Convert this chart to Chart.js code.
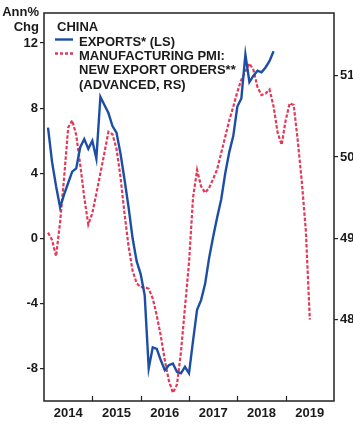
<!DOCTYPE html>
<html>
<head>
<meta charset="utf-8">
<script src="https://cdn.jsdelivr.net/npm/chart.js"></script>
<style>
  body { margin: 0; background: #fff; }
  #wrap { width: 353px; height: 424px; }
</style>
</head>
<body>
<div id="wrap"><canvas id="chart" width="353" height="424"></canvas></div>
<script>
// ================= DATA =================
const pmiMonths = [
  "2014-02","2014-03","2014-04","2014-05","2014-06","2014-07","2014-08","2014-09","2014-10","2014-11","2014-12",
  "2015-01","2015-02","2015-03","2015-04","2015-05","2015-06","2015-07","2015-08","2015-09","2015-10","2015-11","2015-12",
  "2016-01","2016-02","2016-03","2016-04","2016-05","2016-06","2016-07","2016-08","2016-09","2016-10","2016-11","2016-12",
  "2017-01","2017-02","2017-03","2017-04","2017-05","2017-06","2017-07","2017-08","2017-09","2017-10","2017-11","2017-12",
  "2018-01","2018-02","2018-03","2018-04","2018-05","2018-06","2018-07","2018-08","2018-09","2018-10","2018-11","2018-12",
  "2019-01","2019-02","2019-03","2019-04","2019-05","2019-06","2019-07"
];
// exports stop in Oct 2018
const exportMonths = pmiMonths.slice(0, 57);

const exportValues = [
  6.8, 4.7, 3.2, 1.9, 2.7, 3.4, 4.1, 4.3, 5.6, 6.1, 5.5,
  6.0, 4.9, 8.7, 8.2, 7.7, 6.9, 6.5, 5.2, 3.6, 1.9, 0.0, -1.4,
  -2.2, -3.5, -8.0, -6.7, -6.8, -7.5, -8.1, -7.8, -7.7, -8.2, -8.3, -7.9,
  -8.3, -6.3, -4.4, -3.8, -2.8, -1.2, 0.1, 1.3, 2.4, 4.0, 5.3, 6.3,
  8.1, 8.6, 11.3, 9.6, 10.0, 10.3, 10.2, 10.5, 10.9, 11.5
];

const pmiValues = [
  49.07, 48.98, 48.78, 49.2, 49.75, 50.36, 50.45, 50.27, 49.9, 49.5, 49.17,
  49.31, 49.55, 49.8, 50.05, 50.31, 50.28, 50.1, 49.75, 49.3, 48.9, 48.6,
  48.45, 48.4, 48.4, 48.38, 48.26, 48.05, 47.8, 47.5, 47.25, 47.1, 47.2,
  47.6, 48.15, 48.7, 49.5, 49.84, 49.64, 49.56, 49.62, 49.73, 49.85, 50.05,
  50.25, 50.45, 50.62, 50.8, 50.95, 51.05, 51.15, 51.07, 50.86, 50.76, 50.78,
  50.83, 50.62, 50.3, 50.15, 50.45, 50.66, 50.64, 50.2, 49.7, 49.1, 48.0
];

const yearLabels = ["2014", "2015", "2016", "2017", "2018", "2019"];
const leftTicks = [-8, -4, 0, 4, 8, 12];
const rightTicks = [48, 49, 50, 51];

const BLUE = "#1d4ea6";
const RED = "#e23a5a";
const INK = "#1a1a1a";
const FONT = "'Liberation Sans', Arial, sans-serif";

// "2014-02" -> 2014.083
function toYear(m) {
  const [y, mo] = m.split("-").map(Number);
  return y + (mo - 1) / 12;
}

// ================= PLUGIN: frame, x ticks, titles, legend =================
const decor = {
  id: "decor",
  afterDraw(chart) {
    const ctx = chart.ctx;
    const a = chart.chartArea;
    const x = chart.scales.x;
    ctx.save();

    ctx.strokeStyle = "#222";
    ctx.lineWidth = 1.5;
    ctx.strokeRect(a.left, a.top, a.right - a.left, a.bottom - a.top);

    // inward year ticks on the bottom axis
    ctx.lineWidth = 1.2;
    yearLabels.slice(1).forEach(y => {
      const px = Math.round(x.getPixelForValue(Number(y))) + 0.5;
      ctx.beginPath();
      ctx.moveTo(px, a.bottom);
      ctx.lineTo(px, a.bottom - 5);
      ctx.stroke();
    });

    ctx.fillStyle = INK;
    ctx.font = "bold 13px " + FONT;
    ctx.textBaseline = "middle";
    ctx.textAlign = "right";
    ctx.fillText("Ann%", 39, 12);
    ctx.fillText("Chg", 39, 27);

    ctx.textAlign = "left";
    ctx.fillText("CHINA", 57, 27);
    ctx.fillText("EXPORTS* (LS)", 79, 42);
    ctx.fillText("MANUFACTURING PMI:", 79, 56);
    ctx.fillText("NEW EXPORT ORDERS**", 79, 70.5);
    ctx.fillText("(ADVANCED, RS)", 79, 85);

    ctx.lineWidth = 2.4;
    ctx.strokeStyle = BLUE;
    ctx.beginPath();
    ctx.moveTo(55, 39.5);
    ctx.lineTo(73, 39.5);
    ctx.stroke();

    ctx.strokeStyle = RED;
    ctx.setLineDash([3, 2]);
    ctx.beginPath();
    ctx.moveTo(55, 53.5);
    ctx.lineTo(73, 53.5);
    ctx.stroke();

    ctx.restore();
  }
};

// ================= CHART =================
Chart.defaults.font.family = FONT;
Chart.defaults.font.weight = "bold";
Chart.defaults.font.size = 13;
Chart.defaults.color = INK;

new Chart(document.getElementById("chart"), {
  type: "line",
  data: {
    datasets: [
      {
        label: "EXPORTS* (LS)",
        data: exportMonths.map((m, i) => ({ x: toYear(m), y: exportValues[i] })),
        yAxisID: "y",
        borderColor: BLUE,
        borderWidth: 2.4,
        pointRadius: 0,
        tension: 0
      },
      {
        label: "MANUFACTURING PMI: NEW EXPORT ORDERS** (ADVANCED, RS)",
        data: pmiMonths.map((m, i) => ({ x: toYear(m), y: pmiValues[i] })),
        yAxisID: "y2",
        borderColor: RED,
        borderWidth: 2.2,
        borderDash: [3.5, 1.8],
        pointRadius: 0,
        tension: 0
      }
    ]
  },
  options: {
    responsive: false,
    animation: false,
    layout: { padding: { top: 13, left: 0, right: 0, bottom: 0 } },
    plugins: { legend: { display: false }, tooltip: { enabled: false } },
    scales: {
      x: {
        type: "linear",
        min: 2014,
        max: 2020,
        afterBuildTicks: s => { s.ticks = yearLabels.map(y => ({ value: Number(y) + 0.5 })); },
        afterFit: s => { s.height = 23; },
        ticks: {
          padding: 5,
          maxRotation: 0,
          callback: (v, i) => yearLabels[i]
        },
        grid: { display: false, drawTicks: false },
        border: { display: false }
      },
      y: {
        position: "left",
        min: -10,
        max: 13.85,
        afterBuildTicks: s => { s.ticks = leftTicks.map(v => ({ value: v })); },
        afterFit: s => { s.width = 44; },
        ticks: { padding: 2 },
        grid: { drawOnChartArea: false, tickLength: 4, color: "#222", lineWidth: 1.2 },
        border: { display: false }
      },
      y2: {
        position: "right",
        min: 47.0,
        max: 51.77,
        afterBuildTicks: s => { s.ticks = rightTicks.map(v => ({ value: v })); },
        afterFit: s => { s.width = 19; },
        ticks: { padding: 2 },
        grid: { drawOnChartArea: false, tickLength: 4, color: "#222", lineWidth: 1.2 },
        border: { display: false }
      }
    }
  },
  plugins: [decor]
});
</script>
</body>
</html>
